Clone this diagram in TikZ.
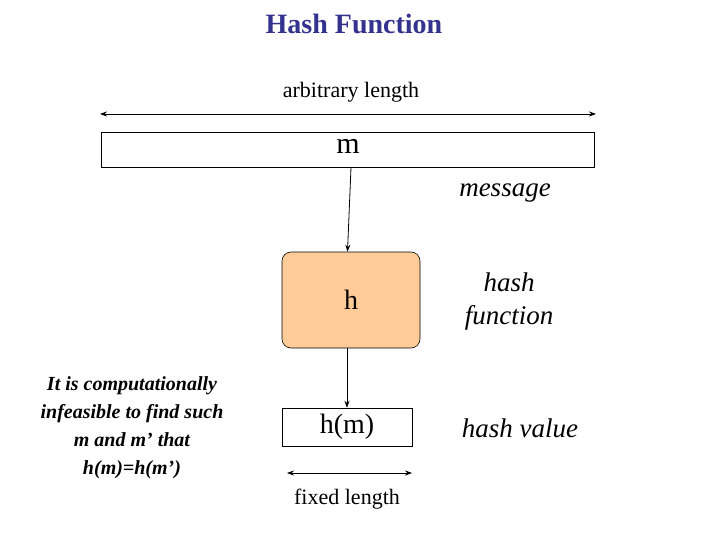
\documentclass[tikz,border=0pt]{standalone}
\usepackage{fontspec}
\setmainfont{Liberation Serif}
\usetikzlibrary{arrows.meta}
\begin{document}
\begin{tikzpicture}[x=1pt,y=-1pt,
  arr/.style={-{Stealth[length=7pt,width=5pt]},line width=0.8pt},
  darr/.style={{Stealth[length=7pt,width=5pt]}-{Stealth[length=7pt,width=5pt]},line width=0.8pt},
  box/.style={draw,line width=0.6pt,inner sep=0pt},
  lab/.style={font=\fontsize{27}{31}\selectfont\itshape,align=center}]
\useasboundingbox (0,0) rectangle (720,540);
\node[font=\fontsize{28}{32}\selectfont\bfseries,text=blue!45!black!80] (title) at (354,24) {Hash Function};
\node[font=\fontsize{22}{26}\selectfont] (arb) at (351,92) {arbitrary length};
\coordinate (al) at (100,114); \coordinate (ar) at (596,114);
\draw[darr] (al) -- (ar);
\node[box,minimum width=493pt,minimum height=35pt] (m) at (347.5,149.5) {};
\node[font=\fontsize{30}{34}\selectfont] (mt) at (348,146) {m};
\node[lab] (msg) at (505,193) {message};
\node[box,rounded corners=9pt,fill={rgb,255:red,255;green,204;blue,153},minimum width=138pt,minimum height=96pt,font=\fontsize{28}{32}\selectfont] (h) at (351,300) {h};
\node[lab,font=\fontsize{27}{33}\selectfont\itshape] (hf) at (509,302) {hash\\function};
\node[box,minimum width=130pt,minimum height=38pt,font=\fontsize{28}{32}\selectfont] (hm) at (347,427) {h(m)};
\node[lab] (hv) at (520,428) {hash value};
\draw[arr] (m.south -| h.north) -- (h.north -| m.south);
\draw[arr] (h.south -| hm.north) -- (hm.north);
\coordinate (fl) at (287,473); \coordinate (fr) at (412,473);
\draw[darr] (fl) -- (fr);
\node[font=\fontsize{22}{26}\selectfont] (fix) at (347,499) {fixed length};
\node[font=\fontsize{20}{28}\selectfont\bfseries\itshape,align=center] (note) at (132,428) {It is computationally\\infeasible to find such\\m and m’ that\\h(m)=h(m’)};
\end{tikzpicture}
\end{document}
